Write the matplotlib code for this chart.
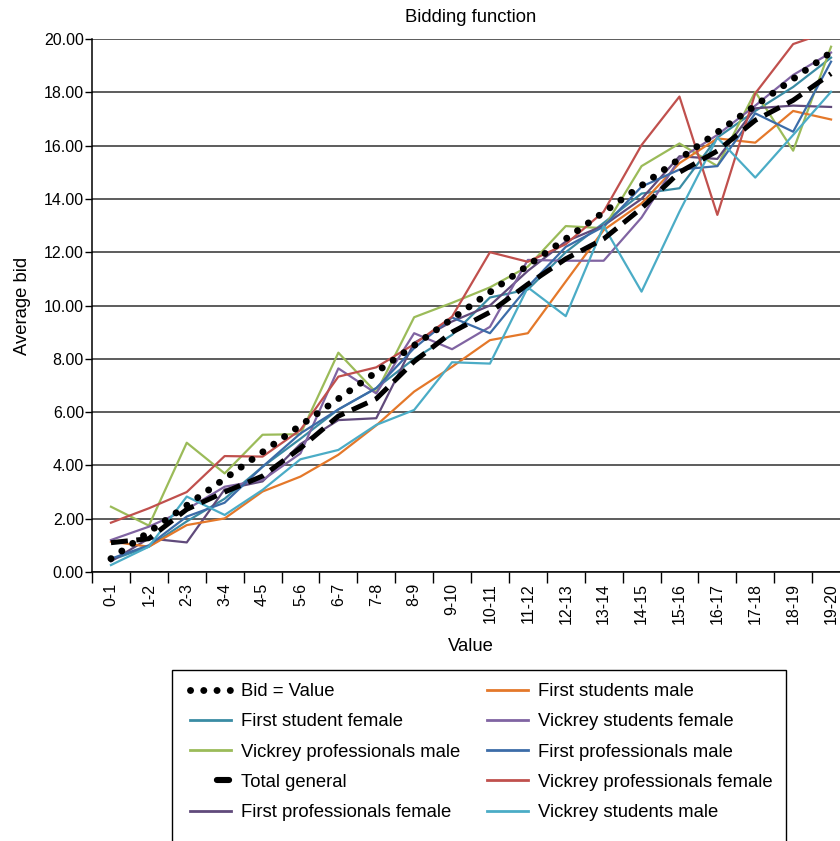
import numpy as np
import matplotlib
matplotlib.use("Agg")
import matplotlib.pyplot as plt
from matplotlib.lines import Line2D
from matplotlib.patches import Rectangle

plt.rcParams['font.family'] = ['Liberation Sans', 'DejaVu Sans']

categories = ["0-1", "1-2", "2-3", "3-4", "4-5", "5-6", "6-7", "7-8", "8-9", "9-10",
              "10-11", "11-12", "12-13", "13-14", "14-15", "15-16", "16-17", "17-18",
              "18-19", "19-20"]

bid_value = [0.5, 1.5, 2.5, 3.5, 4.5, 5.5, 6.5, 7.5, 8.5, 9.5,
             10.5, 11.5, 12.5, 13.5, 14.5, 15.5, 16.5, 17.5, 18.5, 19.5]
first_student_female = [0.45, 0.95, 1.9, 2.75, 3.95, 5.0, 6.1, 6.9, 8.0, 8.9,
                        10.3, 10.6, 12.0, 13.1, 14.2, 14.4, 16.3, 17.3, 18.2, 19.3]
vickrey_prof_male = [2.45, 1.74, 4.85, 3.7, 5.15, 5.17, 8.23, 6.73, 9.56, 10.1,
                     10.68, 11.46, 12.98, 12.9, 15.23, 16.08, 15.23, 18.02, 15.81, 19.71]
total_general = [1.1, 1.25, 2.35, 3.0, 3.6, 4.65, 5.85, 6.5, 7.9, 9.0,
                 9.75, 10.8, 11.75, 12.5, 13.65, 15.0, 15.8, 16.95, 17.7, 18.7]
first_prof_female = [0.4, 1.26, 1.11, 3.1, 3.4, 4.8, 5.7, 5.77, 8.6, 9.4,
                     10.0, 11.3, 12.4, 13.0, 14.0, 15.6, 15.5, 17.4, 17.5, 17.45]
first_students_male = [1.14, 0.95, 1.76, 2.01, 3.02, 3.58, 4.4, 5.5, 6.77, 7.7,
                       8.7, 8.96, 10.9, 12.83, 13.83, 15.34, 16.27, 16.11, 17.3, 16.98]
vickrey_students_female = [1.2, 1.7, 2.35, 3.2, 3.45, 4.45, 7.64, 6.7, 8.96, 8.36,
                           9.2, 11.71, 11.68, 11.68, 13.3, 15.5, 16.4, 17.5, 18.65, 19.49]
first_prof_male = [0.5, 1.0, 2.08, 2.6, 3.95, 5.2, 6.1, 6.9, 8.4, 9.55,
                   8.96, 10.7, 12.2, 12.96, 14.46, 15.1, 15.23, 17.21, 16.52, 19.15]
vickrey_prof_female = [1.85, 2.39, 3.0, 4.35, 4.33, 5.33, 7.33, 7.68, 8.55, 9.58,
                       12.0, 11.64, 12.3, 13.52, 16.02, 17.84, 13.4, 17.96, 19.81, 20.3]
vickrey_students_male = [0.26, 0.95, 2.83, 2.14, 3.08, 4.23, 4.58, 5.52, 6.08, 7.87,
                         7.82, 10.68, 9.6, 12.98, 10.52, 13.52, 16.3, 14.8, 16.4, 18.02]

W, H = 840, 841
fig = plt.figure(figsize=(W / 100, H / 100), dpi=100)
ax = fig.add_axes([92 / W, 1 - 572 / H, (850 - 92) / W, (572 - 39) / H])

x = np.arange(len(categories))
lw = 1.6
colored = [
    (first_student_female, '#3A8CA4'),
    (vickrey_prof_male, '#9BBB59'),
    (first_prof_female, '#604A7B'),
    (first_students_male, '#E4782A'),
    (vickrey_students_female, '#8064A2'),
    (first_prof_male, '#3C6CA8'),
    (vickrey_prof_female, '#C0504D'),
    (vickrey_students_male, '#4BACC6'),
]
for vals, c in colored:
    ax.plot(x, vals, color=c, lw=lw, zorder=3)

dot_style = (0, (0.01, 1.9))
ax.plot(x, total_general, color='black', lw=3.6, linestyle=(0, (3.4, 1.7)),
        dash_capstyle='butt', zorder=4)
ax.plot(x, bid_value, color='black', lw=5.0, linestyle=dot_style,
        dash_capstyle='round', zorder=5)

ax.set_xlim(-0.5, 19.5)
ax.set_ylim(0, 20)
ax.set_yticks(np.arange(0, 21, 2))
ax.set_yticklabels([f"{v:.2f}" for v in np.arange(0, 21, 2)], fontsize=11.5)
ax.set_xticks(x)
ax.set_xticklabels(categories, rotation=90, fontsize=11.5)
ax.set_xticks(np.arange(-0.5, 20, 1), minor=True)
ax.tick_params(axis='x', which='major', length=0, pad=8)
ax.tick_params(axis='x', which='minor', length=8, width=1, direction='out', color='black')
ax.tick_params(axis='y', length=5, width=1, direction='out', color='black', pad=0.8)

ax.grid(axis='y', color='#303030', lw=1.1, zorder=1)
ax.set_axisbelow(True)
for s in ['top', 'right']:
    ax.spines[s].set_visible(False)
ax.spines['left'].set_color('black')
ax.spines['bottom'].set_color('black')
ax.spines['left'].set_linewidth(1.1)
ax.spines['bottom'].set_linewidth(1.1)

ax.set_title("Bidding function", fontsize=13.3, pad=12)
ax.set_ylabel("Average bid", fontsize=13.3, labelpad=9)
ax.set_xlabel("Value", fontsize=13.3, labelpad=10)

# Legend
h_bid = Line2D([], [], color='black', lw=5.0, linestyle=dot_style, dash_capstyle='round')
h_tot = Line2D([], [], color='black', lw=4.4, linestyle=(7.6, (2.0, 10)), dash_capstyle='round')
handles1 = [h_bid,
            Line2D([], [], color='#3A8CA4', lw=2),
            Line2D([], [], color='#9BBB59', lw=2),
            h_tot,
            Line2D([], [], color='#604A7B', lw=2)]
labels1 = ["Bid = Value", "First student female", "Vickrey professionals male",
           "Total general", "First professionals female"]
handles2 = [Line2D([], [], color='#E4782A', lw=2),
            Line2D([], [], color='#8064A2', lw=2),
            Line2D([], [], color='#3C6CA8', lw=2),
            Line2D([], [], color='#C0504D', lw=2),
            Line2D([], [], color='#4BACC6', lw=2)]
labels2 = ["First students male", "Vickrey students female", "First professionals male",
           "Vickrey professionals female", "Vickrey students male"]

common = dict(loc='upper left', frameon=False, borderpad=0, borderaxespad=0,
              handlelength=2.2, handletextpad=0.55, labelspacing=0.72, fontsize=13.3)
leg1 = fig.legend(handles1, labels1, bbox_to_anchor=(190 / W, 1 - 683 / H), **common)
leg2 = fig.legend(handles2, labels2, bbox_to_anchor=(487 / W, 1 - 683 / H), **common)

fig.add_artist(Rectangle((172 / W, -0.05), (786 - 172) / W, (1 - 670 / H) + 0.05,
                         transform=fig.transFigure, fill=False, edgecolor='black', lw=1.0))

fig.savefig("out.png", dpi=100)
